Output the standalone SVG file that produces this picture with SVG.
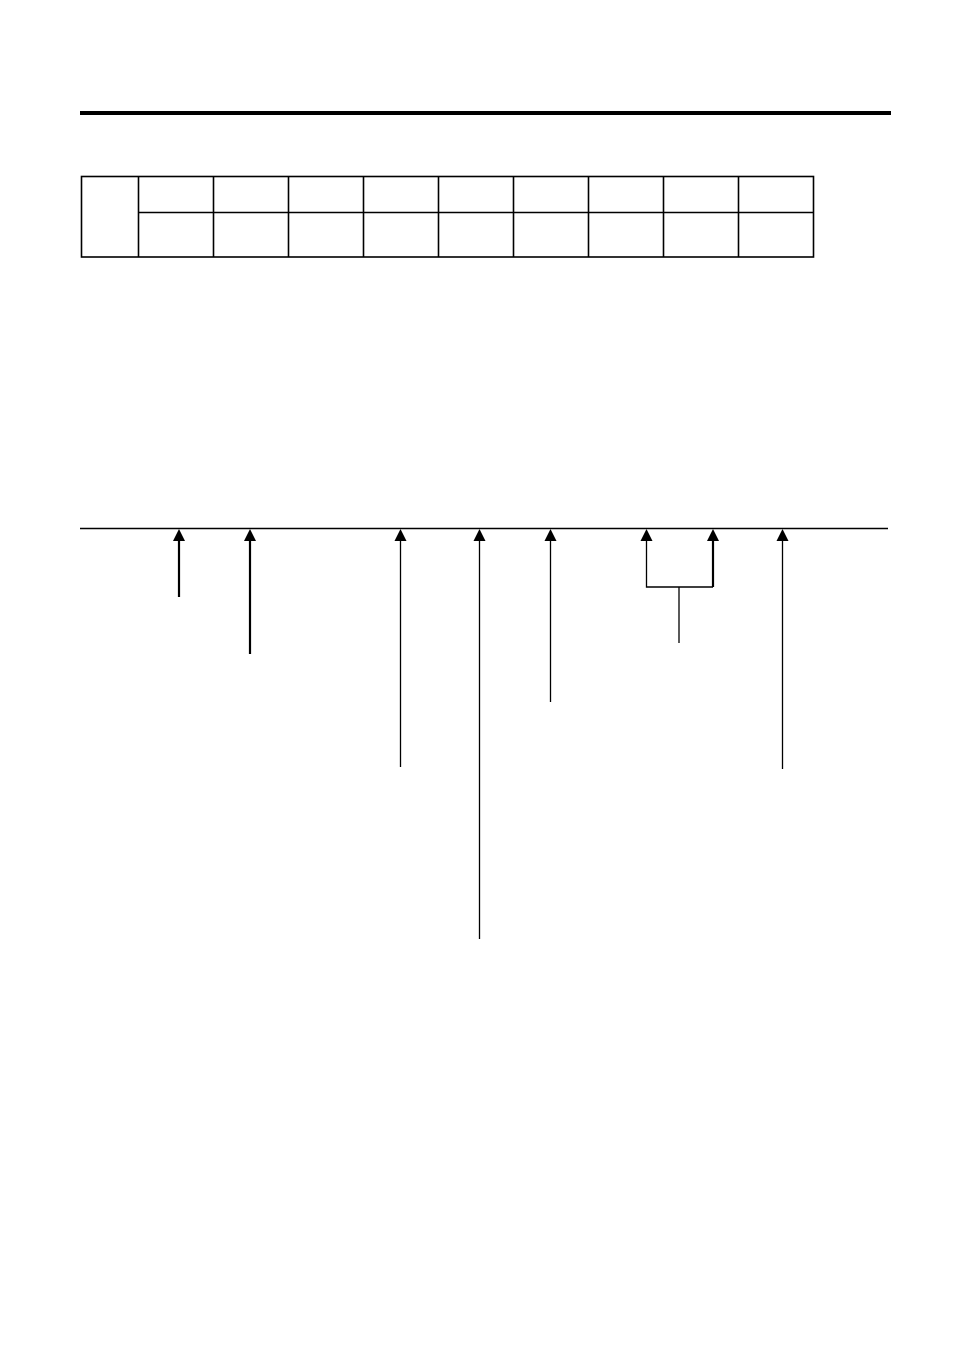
<svg xmlns="http://www.w3.org/2000/svg" xmlns:xlink="http://www.w3.org/1999/xlink" width="954" height="1351" viewBox="0 0 954 1351">
<style>
.ln{stroke:#000;fill:none;stroke-width:1.3}
.tb{stroke:#000;fill:none;stroke-width:1.6}
.thick{stroke:#000;fill:none;stroke-width:2.2}
</style>
<defs>
<polygon id="ah" points="0,0 -6,12 6,12" fill="#000"/>
</defs>
<rect width="954" height="1351" fill="#fff"/>
<g id="header-rule"><line x1="80" y1="113" x2="891" y2="113" stroke="#000" stroke-width="4"/></g>
<g id="table">
<rect class="tb" x="81.5" y="176.5" width="732" height="80.5"/>
<line class="tb" x1="138.5" y1="212.5" x2="813.5" y2="212.5"/>
<line class="tb" x1="138.5" y1="176.5" x2="138.5" y2="257"/>
<line class="tb" x1="213.5" y1="176.5" x2="213.5" y2="257"/>
<line class="tb" x1="288.5" y1="176.5" x2="288.5" y2="257"/>
<line class="tb" x1="363.5" y1="176.5" x2="363.5" y2="257"/>
<line class="tb" x1="438.5" y1="176.5" x2="438.5" y2="257"/>
<line class="tb" x1="513.5" y1="176.5" x2="513.5" y2="257"/>
<line class="tb" x1="588.5" y1="176.5" x2="588.5" y2="257"/>
<line class="tb" x1="663.5" y1="176.5" x2="663.5" y2="257"/>
<line class="tb" x1="738.5" y1="176.5" x2="738.5" y2="257"/>
</g>
<g id="baseline"><line class="ln" x1="80" y1="528.5" x2="888" y2="528.5"/></g>
<g id="connectors">
<line class="thick" x1="179" y1="538" x2="179" y2="597"/><use xlink:href="#ah" x="179" y="529"/>
<line class="thick" x1="250" y1="538" x2="250" y2="654"/><use xlink:href="#ah" x="250" y="529"/>
<line class="ln" x1="400.5" y1="538" x2="400.5" y2="767"/><use xlink:href="#ah" x="400.5" y="529"/>
<line class="ln" x1="479.5" y1="538" x2="479.5" y2="939"/><use xlink:href="#ah" x="479.5" y="529"/>
<line class="ln" x1="550.5" y1="538" x2="550.5" y2="702"/><use xlink:href="#ah" x="550.5" y="529"/>
<polyline class="ln" points="646.5,538 646.5,587 713,587"/>
<line class="thick" x1="713" y1="538" x2="713" y2="587"/>
<line class="ln" x1="679" y1="587" x2="679" y2="643"/>
<use xlink:href="#ah" x="646.5" y="529"/>
<use xlink:href="#ah" x="713" y="529"/>
<line class="ln" x1="782.5" y1="538" x2="782.5" y2="769"/><use xlink:href="#ah" x="782.5" y="529"/>
</g>
</svg>
